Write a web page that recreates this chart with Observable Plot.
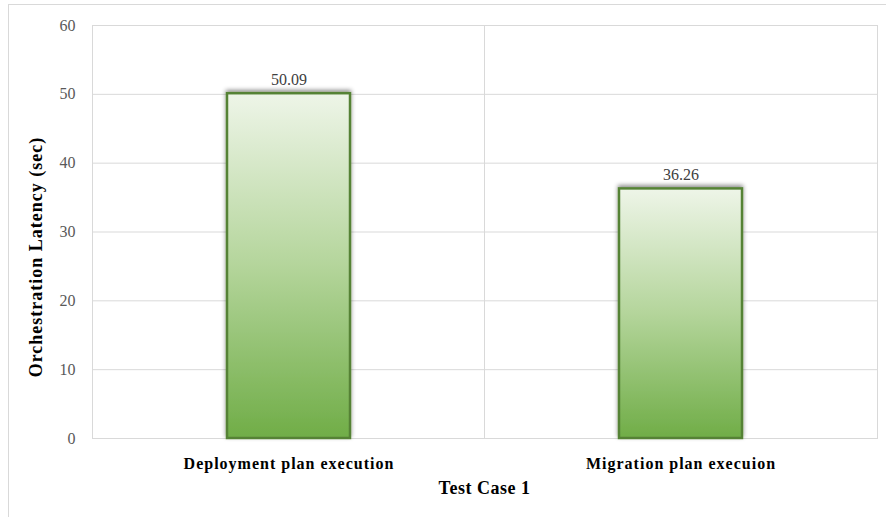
<!DOCTYPE html>
<html>
<head>
<meta charset="utf-8">
<script src="https://cdn.jsdelivr.net/npm/d3@7"></script>
<script src="https://cdn.jsdelivr.net/npm/@observablehq/plot@0.6"></script>
<style>
  html, body { margin: 0; padding: 0; background: #fff; }
  #chart { position: relative; width: 886px; height: 517px; }
</style>
</head>
<body>
<div id="chart"></div>
<script>
const categories = ["Deployment plan execution", "Migration plan execuion"];
const latency = [50.09, 36.26];
const yTicks = [0, 10, 20, 30, 40, 50, 60];
const xTitle = "Test Case 1";
const yTitle = "Orchestration Latency (sec)";

const data = categories.map((c, i) => ({category: c, value: latency[i]}));

const plot = Plot.plot({
  width: 886,
  height: 517,
  marginLeft: 92,
  marginRight: 9,
  marginTop: 25,
  marginBottom: 79,
  style: {fontFamily: "'Liberation Serif', 'Times New Roman', serif", background: "#fff"},
  x: {domain: categories, paddingInner: 0.687, paddingOuter: 0.3435, label: null},
  y: {domain: [0, 60], ticks: yTicks, label: null},
  marks: [
    Plot.gridY(yTicks, {stroke: "#d9d9d9", strokeOpacity: 1, strokeWidth: 1}),
    Plot.frame({stroke: "#d9d9d9", strokeWidth: 1}),
    Plot.barY(data, {x: "category", y: "value", fill: "url(#barGrad)", stroke: "#548235", strokeWidth: 2.5}),
    Plot.text(data, {x: "category", y: "value", text: d => d.value.toFixed(2), dy: -14, fontSize: 16, fill: "#404040"}),
    Plot.axisY({ticks: yTicks, tickSize: 0, tickPadding: 17, fontSize: 16, fill: "#595959", label: null}),
    Plot.axisX({tickSize: 0, tickPadding: 19, fontSize: 16, fontWeight: "bold", fill: "#000", label: null})
  ]
});

const svg = d3.select(plot);
const defs = svg.insert("defs", ":first-child");
const grad = defs.append("linearGradient").attr("id", "barGrad").attr("x1", 0).attr("y1", 0).attr("x2", 0).attr("y2", 1);
grad.append("stop").attr("offset", "0%").attr("stop-color", "#eef5e8");
grad.append("stop").attr("offset", "50%").attr("stop-color", "#b4d59b");
grad.append("stop").attr("offset", "100%").attr("stop-color", "#70ad47");
const f = defs.append("filter").attr("id", "barShadow").attr("x", "-20%").attr("y", "-20%").attr("width", "140%").attr("height", "140%");
f.append("feDropShadow").attr("dx", 0).attr("dy", -2).attr("stdDeviation", 2).attr("flood-color", "#000").attr("flood-opacity", 0.45);
svg.selectAll("g[aria-label=bar] rect").attr("filter", "url(#barShadow)");
svg.selectAll("g[aria-label='x-axis tick label'] text").attr("letter-spacing", 1);

// vertical category separator at the band boundary
const sepX = 92 + (886 - 92 - 9) / 2;
svg.append("line").attr("x1", sepX).attr("x2", sepX).attr("y1", 25).attr("y2", 517 - 79)
  .attr("stroke", "#d9d9d9");

// axis titles
svg.append("text").attr("x", sepX).attr("y", 494).attr("text-anchor", "middle")
  .attr("font-size", 18).attr("letter-spacing", 0.5).attr("font-weight", "bold").attr("fill", "#000").text(xTitle);
svg.append("text").attr("transform", `translate(42,257) rotate(-90)`)
  .attr("text-anchor", "middle").attr("font-size", 18).attr("letter-spacing", 1).attr("font-weight", "bold").attr("fill", "#000").text(yTitle);

// outer chart border
svg.append("rect").attr("x", 8.5).attr("y", 4.5).attr("width", 886).attr("height", 530)
  .attr("fill", "none").attr("stroke", "#d9d9d9");

document.getElementById("chart").appendChild(plot);
</script>
</body>
</html>
